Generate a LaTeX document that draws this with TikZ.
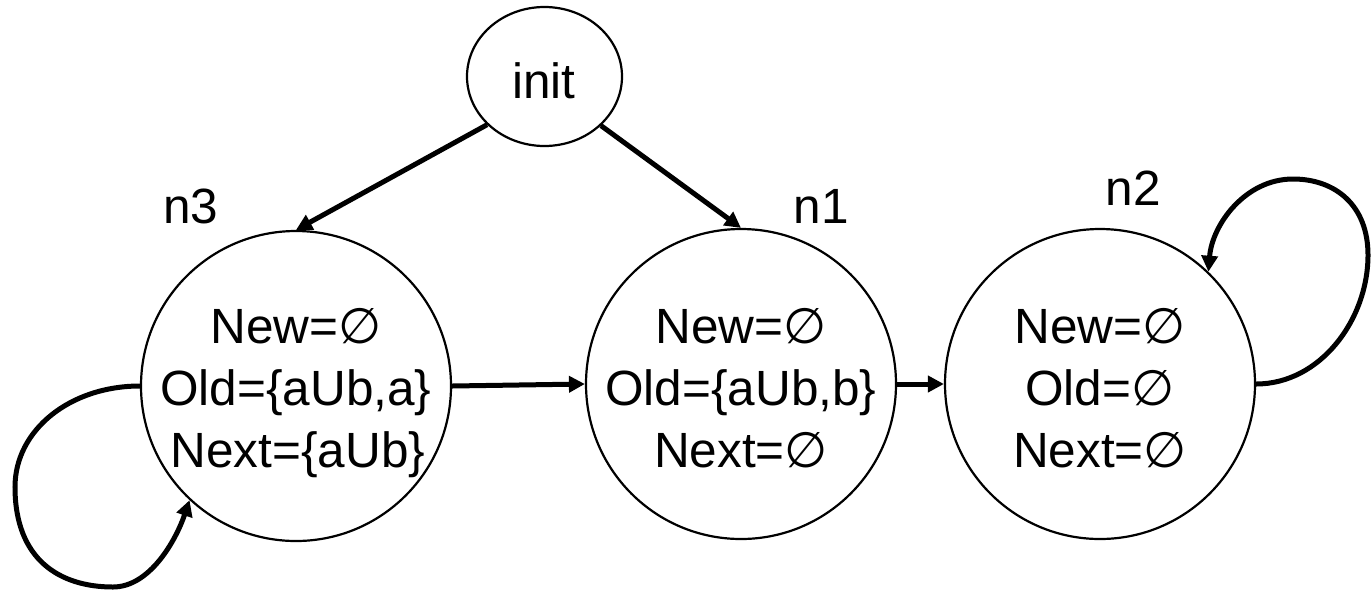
\documentclass[tikz,border=0pt]{standalone}
\usepackage{fontspec}
\setmainfont{Liberation Sans}
\newfontfamily\symfont{DejaVu Sans}
\usetikzlibrary{arrows.meta,shapes.geometric}
\newcommand{\noset}{{\symfont ∅}}
\tikzset{
  state/.style={circle, draw, line width=2.2pt, minimum size=310pt, inner sep=0pt},
  initstate/.style={ellipse, draw, line width=2.2pt, minimum width=155pt, minimum height=139pt, inner sep=0pt},
  txt/.style={font=\fontsize{49.5}{58}\selectfont, anchor=base, inner sep=0pt},
  edge/.style={line width=5pt, -{Triangle[length=16pt,width=16pt]}},
}
\begin{document}
\begin{tikzpicture}[x=1pt, y=1pt]
  \useasboundingbox (0,0) rectangle (1372,-590);

  % states
  \node[initstate] (init) at (544.5,-76.5) {};
  \node[state] (n3) at (296,-386) {};
  \node[state] (n1) at (741,-384) {};
  \node[state] (n2) at (1100,-384) {};

  % texts
  \node[txt] (tinit) at (544,-98) {init};
  \node[txt] (l3) at (191,-223) {n3};
  \node[txt] (l1) at (821,-223) {n1};
  \node[txt] (l2) at (1133,-205) {n2};

  \node[txt] (n3a) at (296,-343) {New=\noset};
  \node[txt] (n3b) at (296,-405) {Old=\{aUb,a\}};
  \node[txt] (n3c) at (298,-467) {Next=\{aUb\}};

  \node[txt] (n1a) at (741,-343) {New=\noset};
  \node[txt] (n1b) at (741,-405) {Old=\{aUb,b\}};
  \node[txt] (n1c) at (741,-467) {Next=\noset};

  \node[txt] (n2a) at (1100,-343) {New=\noset};
  \node[txt] (n2b) at (1100,-405) {Old=\noset};
  \node[txt] (n2c) at (1100,-467) {Next=\noset};

  % transitions
  \draw[edge] (init.220) -- (n3.north);
  \draw[edge] (init.319) -- (n1.north);
  \draw[edge] (n3.east) -- (n1.west);
  \draw[edge] (n1.east) -- (n2.west);

  % self loops
  \draw[edge] (n3.west) .. controls (70,-386) and (15,-430) .. (15,-487)
              .. controls (15,-560) and (60,-587) .. (113,-587)
              .. controls (150,-587) and (176,-540) .. (n3.227);
  \draw[edge] (n2.east) .. controls (1320,-384) and (1368,-320) .. (1368,-255)
              .. controls (1368,-205) and (1335,-179) .. (1293,-179)
              .. controls (1245,-179) and (1212,-225) .. (n2.46);
\end{tikzpicture}
\end{document}
